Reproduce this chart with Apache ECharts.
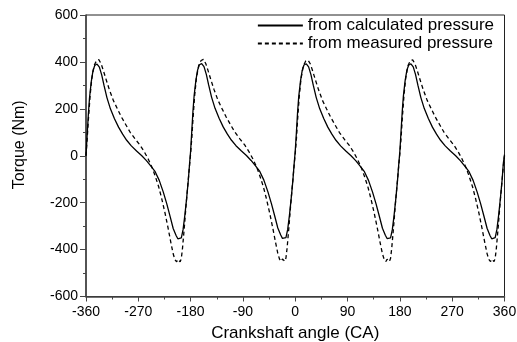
<!DOCTYPE html>
<html>
<head>
<meta charset="utf-8">
<script src="https://cdn.jsdelivr.net/npm/echarts@6/dist/echarts.min.js"></script>
<style>html,body{margin:0;padding:0;background:#fff;}#c{width:517px;height:342px;}</style>
</head>
<body>
<div id="c"></div>
<script>
// Crank angle (deg) and torque (Nm)
var calcAngle = [
-360,-358,-356,-354,-351,-348,-345,-341,-337,-333,-329,-324,-318,-311,-304,-297,-290,-282,-273,-264,-256,-248,-241,-234,-227,-221,-215,-210,-205,-202,-199,-196,-193,-190,-187,-184,-182,
-180,-178,-176,-174,-171,-168,-165,-161,-157,-153,-149,-144,-138,-131,-124,-117,-110,-102,-93,-84,-76,-68,-61,-54,-47,-41,-35,-30,-25,-22,-19,-16,-13,-10,-7,-4,-2,
0,2,4,6,9,12,15,19,23,27,31,36,42,49,56,63,70,78,87,96,104,112,119,126,133,139,145,150,155,158,161,164,167,170,173,176,178,
180,182,184,186,189,192,195,199,203,207,211,216,222,229,236,243,250,258,267,276,284,292,299,306,313,319,325,330,335,338,341,344,347,350,353,356,358,
360];
var calcTorque = [
0,90,175,245,315,362,385,391,378,345,300,248,200,158,122,92,66,42,20,0,-21,-45,-68,-105,-155,-205,-262,-310,-340,-354,-358,-350,-315,-255,-185,-105,-40,
20,105,190,255,320,365,388,393,380,347,302,250,202,160,123,93,67,43,21,1,-20,-44,-67,-104,-154,-204,-260,-308,-338,-352,-357,-349,-314,-254,-183,-103,-38,
20,100,185,252,318,364,387,392,379,346,301,249,201,159,122,92,66,42,20,0,-21,-45,-68,-105,-155,-205,-261,-309,-339,-353,-357,-350,-315,-255,-184,-104,-39,
20,102,186,253,319,364,386,392,379,346,301,249,201,159,122,92,66,42,20,0,-21,-45,-68,-105,-155,-205,-261,-309,-340,-354,-357,-349,-313,-252,-180,-100,-32,
5];

var measAngle = [
-360,-358,-356,-353,-350,-346,-342,-338,-334,-330,-325,-320,-313,-306,-299,-291,-284,-275,-267,-260,-253,-246,-241,-235,-230,-224,-219,-214,-210,-207,-204,-202,-200,-198,-196,-194,-191,-188,-185,-182,
-180,-178,-176,-173,-170,-166,-162,-158,-154,-150,-145,-140,-133,-126,-119,-111,-104,-95,-87,-80,-73,-66,-61,-55,-50,-44,-39,-34,-30,-27,-24,-22,-20,-18,-16,-14,-11,-8,-5,-2,
0,2,4,7,10,14,18,22,26,30,35,40,47,54,61,69,76,85,93,100,107,114,119,125,130,136,141,146,150,153,156,158,160,162,164,166,169,172,175,178,
180,182,184,187,190,194,198,202,206,210,215,220,227,234,241,249,256,265,273,280,287,294,299,305,310,316,321,326,330,333,336,338,340,342,344,346,349,352,355,358,
360];
var measTorque = [
0,70,150,255,330,385,405,410,392,362,322,283,236,200,165,130,100,70,45,18,-14,-52,-86,-132,-180,-245,-305,-370,-418,-443,-452,-442,-448,-452,-438,-395,-310,-215,-130,-45,
10,75,155,258,332,386,406,411,393,363,323,284,237,201,166,131,101,71,46,19,-13,-51,-85,-131,-179,-244,-304,-368,-416,-441,-450,-440,-446,-450,-436,-393,-308,-213,-128,-43,
10,72,152,256,330,384,404,408,391,361,321,282,235,199,164,129,99,69,44,17,-15,-53,-87,-133,-181,-246,-306,-370,-418,-442,-451,-441,-447,-451,-437,-394,-309,-214,-129,-44,
10,73,153,256,331,385,405,409,392,362,322,283,236,200,165,130,100,70,45,18,-14,-52,-86,-132,-180,-245,-305,-369,-417,-442,-451,-441,-447,-451,-437,-394,-309,-214,-129,-44,
0];

var seriesNames = ['from calculated pressure', 'from measured pressure'];
var xTitle = 'Crankshaft angle (CA)';
var yTitle = 'Torque (Nm)';

function zip(a, b) { return a.map(function (v, i) { return [v, b[i]]; }); }

var FONT = '"Liberation Sans", Arial, Helvetica, sans-serif';
var AX = '#444';
var chart = echarts.init(document.getElementById('c'), null, {renderer: 'canvas'});
chart.setOption({
  animation: false,
  backgroundColor: '#ffffff',
  grid: {left: 86, top: 15, width: 418.5, height: 281.5, show: true, borderColor: '#222', borderWidth: 1,
         backgroundColor: 'transparent', containLabel: false, outerBoundsMode: 'none'},
  legend: {
    orient: 'vertical', right: 18, top: 12, itemWidth: 45, itemHeight: 14, itemGap: 1,
    textStyle: {fontFamily: FONT, fontSize: 17, color: '#000'},
    itemStyle: {opacity: 0},
    data: seriesNames
  },
  xAxis: {
    type: 'value', min: -360, max: 360, interval: 90,
    axisLine: {show: true, onZero: false, lineStyle: {color: AX, width: 1.6}},
    axisTick: {show: true, inside: false, length: 5, lineStyle: {color: AX, width: 1}},
    minorTick: {show: true, splitNumber: 2, length: 3, lineStyle: {color: AX, width: 1}},
    splitLine: {show: false},
    axisLabel: {fontFamily: FONT, fontSize: 14, color: '#000', margin: 9},
    name: xTitle, nameLocation: 'middle', nameGap: 25,
    nameTextStyle: {fontFamily: FONT, fontSize: 17, color: '#000'}
  },
  yAxis: {
    type: 'value', min: -600, max: 600, interval: 200,
    axisLine: {show: true, onZero: false, lineStyle: {color: AX, width: 1.6}},
    axisTick: {show: true, inside: false, length: 6, lineStyle: {color: AX, width: 1}},
    minorTick: {show: true, splitNumber: 2, length: 3, lineStyle: {color: AX, width: 1}},
    splitLine: {show: false},
    axisLabel: {fontFamily: FONT, fontSize: 14, color: '#000', margin: 8},
    name: yTitle, nameLocation: 'middle', nameGap: 58,
    nameTextStyle: {fontFamily: FONT, fontSize: 16, color: '#000', padding: [0, 0, 0, 22]}
  },
  series: [
    {name: seriesNames[0], type: 'line', symbol: 'none', data: zip(calcAngle, calcTorque),
     lineStyle: {color: '#000', width: 1.3}, itemStyle: {color: '#000'}, z: 3},
    {name: seriesNames[1], type: 'line', symbol: 'none', data: zip(measAngle, measTorque),
     lineStyle: {color: '#000', width: 1.3, type: [4, 3]}, itemStyle: {color: '#000'}, z: 2}
  ]
});
</script>
</body>
</html>
